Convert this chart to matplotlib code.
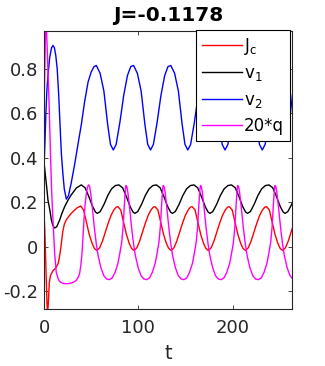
import matplotlib
matplotlib.use("Agg")
import matplotlib.pyplot as plt
import numpy as np

plt.rcParams['font.family'] = ['DejaVu Sans']
plt.rcParams['axes.unicode_minus'] = False
plt.rcParams['mathtext.default'] = 'regular'

title = "J=-0.1178"
xlabel = "t"
xticks = [0, 100, 200]
yticks = [-0.2, 0, 0.2, 0.4, 0.6, 0.8]
ytick_labels = ["-0.2", "0", "0.2", "0.4", "0.6", "0.8"]
labels = [r"$\mathregular{J_c}$", r"$\mathregular{v_1}$", r"$\mathregular{v_2}$", "20*q"]
colors = ["#ff0000", "#000000", "#0000ff", "#ff00ff"]

# J_c (red)
t_jc = [0, 0.8, 1.6, 2.4, 3.2, 3.8, 4.5, 5.6, 6.8, 8.2, 10, 11.7, 13.5, 15.2, 16.2, 17, 18, 18.8, 20, 21.5, 23.5, 26, 29, 32, 35.5, 39,
        42, 45, 48, 51, 53.5, 56, 59, 62, 65, 68, 71, 74, 76.5, 78.4,
        81.4, 84.4, 87.4, 90.4, 92.9, 95.4, 98.4, 101.4, 104.4, 107.4, 110.4, 113.4, 115.9, 117.8,
        120.8, 123.8, 126.8, 129.8, 132.3, 134.8, 137.8, 140.8, 143.8, 146.8, 149.8, 152.8, 155.3, 157.2,
        160.2, 163.2, 166.2, 169.2, 171.7, 174.2, 177.2, 180.2, 183.2, 186.2, 189.2, 192.2, 194.7, 196.6,
        199.6, 202.6, 205.6, 208.6, 211.1, 213.6, 216.6, 219.6, 222.6, 225.6, 228.6, 231.6, 234.1, 236,
        239, 242, 245, 248, 250.5, 253, 256, 259, 262, 265]
jc = [0.15, 0.08, -0.03, -0.15, -0.26, -0.30, -0.26, -0.163, -0.13, -0.118, -0.105, -0.10, -0.088, -0.073, -0.05, -0.029, 0.0, 0.03, 0.07, 0.10, 0.12, 0.135, 0.15, 0.163, 0.176, 0.183,
      0.165, 0.11, 0.055, 0.015, -0.008, -0.017, -0.005, 0.025, 0.065, 0.105, 0.14, 0.165, 0.178, 0.18,
      0.165, 0.11, 0.055, 0.015, -0.008, -0.017, -0.005, 0.025, 0.065, 0.105, 0.14, 0.165, 0.178, 0.18,
      0.165, 0.11, 0.055, 0.015, -0.008, -0.017, -0.005, 0.025, 0.065, 0.105, 0.14, 0.165, 0.178, 0.18,
      0.165, 0.11, 0.055, 0.015, -0.008, -0.017, -0.005, 0.025, 0.065, 0.105, 0.14, 0.165, 0.178, 0.18,
      0.165, 0.11, 0.055, 0.015, -0.008, -0.017, -0.005, 0.025, 0.065, 0.105, 0.14, 0.165, 0.178, 0.18,
      0.165, 0.11, 0.055, 0.015, -0.008, -0.017, -0.005, 0.025, 0.065, 0.105]

# v_1 (black)
t_v1 = [0, 1, 2.8, 4.2, 6.4, 7.8, 9.5, 11.3, 13.5, 16.6, 19, 22, 25.5, 29, 34.3, 39.6,
        43.6, 47.6, 51.6, 54.6, 56.6, 59.6, 63.6, 67.6, 71.6, 75.6, 79.4,
        83.4, 87.4, 91.4, 94.4, 96.4, 99.4, 103.4, 107.4, 111.4, 115.4, 119.2,
        123.2, 127.2, 131.2, 134.2, 136.2, 139.2, 143.2, 147.2, 151.2, 155.2, 159,
        163, 167, 171, 174, 176, 179, 183, 187, 191, 195, 198.8,
        202.8, 206.8, 210.8, 213.8, 215.8, 218.8, 222.8, 226.8, 230.8, 234.8, 238.6,
        242.6, 246.6, 250.6, 253.6, 255.6, 258.6, 262.6, 266.6]
v1 = [0.38, 0.34, 0.27, 0.21, 0.16, 0.12, 0.095, 0.084, 0.09, 0.12, 0.15, 0.181, 0.21, 0.234, 0.264, 0.278,
      0.265, 0.225, 0.18, 0.156, 0.150, 0.158, 0.19, 0.23, 0.26, 0.275, 0.278,
      0.265, 0.225, 0.18, 0.156, 0.150, 0.158, 0.19, 0.23, 0.26, 0.275, 0.278,
      0.265, 0.225, 0.18, 0.156, 0.150, 0.158, 0.19, 0.23, 0.26, 0.275, 0.278,
      0.265, 0.225, 0.18, 0.156, 0.150, 0.158, 0.19, 0.23, 0.26, 0.275, 0.278,
      0.265, 0.225, 0.18, 0.156, 0.150, 0.158, 0.19, 0.23, 0.26, 0.275, 0.278,
      0.265, 0.225, 0.18, 0.156, 0.150, 0.158, 0.19, 0.23]

# v_2 (blue)
t_v2 = [0, 1, 2, 3, 4.2, 6, 8, 9.5, 11, 12.5, 14, 15.5, 17, 18.4, 20, 21.5, 23.7, 26, 29, 32.5, 36, 39.6, 43, 46.7, 50, 53, 55.5,
        59.5, 63.5, 67.5, 70.5, 73.5, 76.5, 80.5, 84.5, 88.5, 92, 95,
        99, 103, 107, 110, 113, 116, 120, 124, 128, 131.5, 134.5,
        138.5, 142.5, 146.5, 149.5, 152.5, 155.5, 159.5, 163.5, 167.5, 171, 174,
        178, 182, 186, 189, 192, 195, 199, 203, 207, 210.5, 213.5,
        217.5, 221.5, 225.5, 228.5, 231.5, 234.5, 238.5, 242.5, 246.5, 250, 253,
        257, 261, 265]
v2 = [0.35, 0.47, 0.60, 0.70, 0.77, 0.85, 0.895, 0.905, 0.895, 0.86, 0.80, 0.69, 0.55, 0.42, 0.33, 0.26, 0.214, 0.23, 0.29, 0.37, 0.46, 0.55, 0.65, 0.74, 0.785, 0.81, 0.815,
      0.78, 0.70, 0.55, 0.46, 0.435, 0.46, 0.56, 0.68, 0.77, 0.81, 0.815,
      0.78, 0.70, 0.55, 0.46, 0.435, 0.46, 0.56, 0.68, 0.77, 0.81, 0.815,
      0.78, 0.70, 0.55, 0.46, 0.435, 0.46, 0.56, 0.68, 0.77, 0.81, 0.815,
      0.78, 0.70, 0.55, 0.46, 0.435, 0.46, 0.56, 0.68, 0.77, 0.81, 0.815,
      0.78, 0.70, 0.55, 0.46, 0.435, 0.46, 0.56, 0.68, 0.77, 0.81, 0.815,
      0.78, 0.70, 0.55]

# 20*q (magenta)
t_q = [0, 0.8, 1.5, 2.0, 2.5, 4, 5.5, 7, 8.2, 9.5, 11.3, 13, 15, 16.6, 19, 22, 26, 29, 32, 34.3, 36.5, 37.8, 39, 40.3, 41.4, 42.4, 43.6, 44.9, 46.2, 47.4,
       48.4, 49.4, 51.4, 53.4, 55.4, 57.4, 60.4, 63.4, 66.4, 69.4, 72.4, 75.4, 78.4, 80.4, 82.4, 83.9, 85.4, 86.4, 86.9,
       87.9, 88.9, 90.9, 92.9, 94.9, 96.9, 99.9, 102.9, 105.9, 108.9, 111.9, 114.9, 117.9, 119.9, 121.9, 123.4, 124.9, 125.9, 126.4,
       127.4, 128.4, 130.4, 132.4, 134.4, 136.4, 139.4, 142.4, 145.4, 148.4, 151.4, 154.4, 157.4, 159.4, 161.4, 162.9, 164.4, 165.4, 165.9,
       166.9, 167.9, 169.9, 171.9, 173.9, 175.9, 178.9, 181.9, 184.9, 187.9, 190.9, 193.9, 196.9, 198.9, 200.9, 202.4, 203.9, 204.9, 205.4,
       206.4, 207.4, 209.4, 211.4, 213.4, 215.4, 218.4, 221.4, 224.4, 227.4, 230.4, 233.4, 236.4, 238.4, 240.4, 241.9, 243.4, 244.4, 244.9,
       245.9, 246.9, 248.9, 250.9, 252.9, 254.9, 257.9, 260.9, 263.9, 266.9]
q20 = [0.60, 0.78, 0.95, 1.02, 1.0, 0.82, 0.63, 0.40, 0.24, 0.12, -0.03, -0.115, -0.145, -0.156, -0.163, -0.166, -0.166, -0.163, -0.158, -0.151, -0.135, -0.12, -0.085, -0.03, 0.05, 0.12, 0.19, 0.24, 0.27, 0.278,
       0.27, 0.245, 0.17, 0.085, 0.015, -0.04, -0.095, -0.13, -0.145, -0.148, -0.14, -0.115, -0.075, -0.03, 0.02, 0.09, 0.20, 0.26, 0.275,
       0.27, 0.245, 0.17, 0.085, 0.015, -0.04, -0.095, -0.13, -0.145, -0.148, -0.14, -0.115, -0.075, -0.03, 0.02, 0.09, 0.20, 0.26, 0.275,
       0.27, 0.245, 0.17, 0.085, 0.015, -0.04, -0.095, -0.13, -0.145, -0.148, -0.14, -0.115, -0.075, -0.03, 0.02, 0.09, 0.20, 0.26, 0.275,
       0.27, 0.245, 0.17, 0.085, 0.015, -0.04, -0.095, -0.13, -0.145, -0.148, -0.14, -0.115, -0.075, -0.03, 0.02, 0.09, 0.20, 0.26, 0.275,
       0.27, 0.245, 0.17, 0.085, 0.015, -0.04, -0.095, -0.13, -0.145, -0.148, -0.14, -0.115, -0.075, -0.03, 0.02, 0.09, 0.20, 0.26, 0.275,
       0.27, 0.245, 0.17, 0.085, 0.015, -0.04, -0.095, -0.13, -0.145, -0.148]

xlim = (0, 263)
ylim = (-0.28, 0.97)

fig = plt.figure(figsize=(3.25, 3.66), dpi=100)
ax = fig.add_axes([44/325, 1-309/366, 248/325, 278/366])

series = [(t_jc, jc), (t_v1, v1), (t_v2, v2), (t_q, q20)]
for (tt, yy), c, lab in zip(series, colors, labels):
    ax.plot(tt, yy, color=c, lw=1.0, label=lab)

ax.set_xlim(*xlim)
ax.set_ylim(*ylim)
ax.set_xticks(xticks)
ax.set_xticklabels([str(v) for v in xticks])
ax.set_yticks(yticks)
ax.set_yticklabels(ytick_labels)

axc = "#262626"
for s in ax.spines.values():
    s.set_color(axc)
    s.set_linewidth(0.8)
ax.tick_params(direction='in', length=3, width=0.6, colors=axc, labelsize=13,
               top=True, right=True, pad=4)
ax.tick_params(axis='x', pad=7)
ax.set_xlabel(xlabel, fontsize=14, color=axc, labelpad=5.5)
ax.set_title(title, fontsize=14.5, fontweight='bold', color='black', pad=7)

leg = ax.legend(loc='upper right', bbox_to_anchor=(0.992, 1.004), borderaxespad=0,
                fontsize=12, frameon=True, fancybox=False, framealpha=1,
                edgecolor='black', handlelength=2.4, handletextpad=0.15,
                labelspacing=0.45, borderpad=0.35)
leg.get_frame().set_linewidth(0.8)

fig.savefig("out.png", dpi=100)
